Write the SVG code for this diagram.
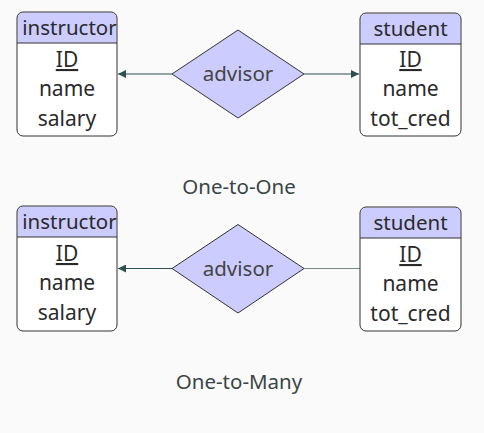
<svg xmlns="http://www.w3.org/2000/svg" width="484" height="433" viewBox="0 0 484 433">
<defs>
<style>
.bg{fill:#fafafa}
.hdr{fill:#ccccff}
.body{fill:#ffffff}
.out{fill:none;stroke:#333333;stroke-width:1}
.sep{stroke:#333333;stroke-width:1}
.t{font-family:"Noto Sans","Open Sans",sans-serif;font-size:21px;fill:#2a2a2a;text-anchor:middle}
.h{font-family:"Noto Sans","Open Sans",sans-serif;font-size:20.5px;fill:#2a2a2a;text-anchor:middle}
.dia{fill:#ccccff;stroke:#333333;stroke-width:1}
.dt{font-family:"Noto Sans","Open Sans",sans-serif;font-size:20.5px;fill:#444444;text-anchor:middle}
.cap{font-family:"Noto Sans","Open Sans",sans-serif;font-size:20.5px;fill:#3a4545;text-anchor:middle}
.edge{stroke:#2f4f4f;stroke-width:1;fill:none}
.edge2{stroke:#778888;stroke-width:1;fill:none}
</style>
<marker id="arr" viewBox="0 0 10 10" refX="10" refY="5" markerWidth="8" markerHeight="8" orient="auto" markerUnits="userSpaceOnUse">
<path d="M0,0 L10,5 L0,10 z" fill="#2f4f4f"/>
</marker>
</defs>
<rect class="bg" x="0" y="0" width="484" height="433"/>

<g id="connectors">
<line class="edge" x1="172" y1="74" x2="118" y2="74" marker-end="url(#arr)"/>
<line class="edge" x1="304" y1="74" x2="359" y2="74" marker-end="url(#arr)"/>
<line class="edge" x1="172" y1="268.5" x2="118" y2="268.5" marker-end="url(#arr)"/>
<line class="edge2" x1="304" y1="268.5" x2="360" y2="268.5"/>
</g>

<g id="instructor1">
<rect class="body" x="17" y="12" width="100" height="124" rx="6"/>
<path class="hdr" d="M23,12.5 H111 A5.5,5.5 0 0 1 116.5,18 V43 H17.5 V18 A5.5,5.5 0 0 1 23,12.5 z"/>
<rect class="out" x="17" y="12" width="100" height="124" rx="6"/>
<line class="sep" x1="17" y1="43" x2="117" y2="43"/>
<text class="h" x="69.5" y="35">instructor</text>
<text class="t" x="67" y="67" text-decoration="underline">ID</text>
<text class="t" x="67" y="96">name</text>
<text class="t" x="67" y="126">salary</text>
</g>

<g id="student1">
<rect class="body" x="360" y="13" width="101" height="123" rx="6"/>
<path class="hdr" d="M366,13.5 H455 A5.5,5.5 0 0 1 460.5,19 V44 H360.5 V19 A5.5,5.5 0 0 1 366,13.5 z"/>
<rect class="out" x="360" y="13" width="101" height="123" rx="6"/>
<line class="sep" x1="360" y1="44" x2="461" y2="44"/>
<text class="h" x="410.5" y="36">student</text>
<text class="t" x="410.5" y="67" text-decoration="underline">ID</text>
<text class="t" x="410.5" y="96">name</text>
<text class="t" x="410.5" y="126">tot_cred</text>
</g>

<g id="advisor1">
<polygon class="dia" points="238,30 304,74 238,118 172,74"/>
<text class="dt" x="238" y="81">advisor</text>
</g>

<text class="cap" x="239" y="194">One-to-One</text>

<g id="instructor2">
<rect class="body" x="17" y="206" width="100" height="125" rx="6"/>
<path class="hdr" d="M23,206.5 H111 A5.5,5.5 0 0 1 116.5,212 V237 H17.5 V212 A5.5,5.5 0 0 1 23,206.5 z"/>
<rect class="out" x="17" y="206" width="100" height="125" rx="6"/>
<line class="sep" x1="17" y1="237" x2="117" y2="237"/>
<text class="h" x="69.5" y="229">instructor</text>
<text class="t" x="67" y="261" text-decoration="underline">ID</text>
<text class="t" x="67" y="290">name</text>
<text class="t" x="67" y="320">salary</text>
</g>

<g id="student2">
<rect class="body" x="360" y="207" width="101" height="124" rx="6"/>
<path class="hdr" d="M366,207.5 H455 A5.5,5.5 0 0 1 460.5,213 V238 H360.5 V213 A5.5,5.5 0 0 1 366,207.5 z"/>
<rect class="out" x="360" y="207" width="101" height="124" rx="6"/>
<line class="sep" x1="360" y1="238" x2="461" y2="238"/>
<text class="h" x="410.5" y="230">student</text>
<text class="t" x="410.5" y="262" text-decoration="underline">ID</text>
<text class="t" x="410.5" y="291">name</text>
<text class="t" x="410.5" y="321">tot_cred</text>
</g>

<g id="advisor2">
<polygon class="dia" points="238,224.5 304,268.5 238,313 172,268.5"/>
<text class="dt" x="238" y="276">advisor</text>
</g>

<text class="cap" x="239" y="389">One-to-Many</text>
</svg>
